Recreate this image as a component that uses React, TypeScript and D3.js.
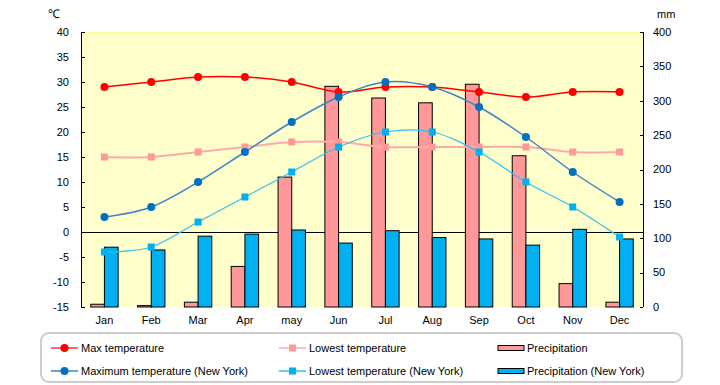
import React from 'react'
import * as d3 from 'd3'

const months = ['Jan', 'Feb', 'Mar', 'Apr', 'may', 'Jun', 'Jul', 'Aug', 'Sep', 'Oct', 'Nov', 'Dec']
const maxTemp = [29, 30, 31, 31, 30, 28, 29, 29, 28, 27, 28, 28]
const lowTemp = [15, 15, 16, 17, 18, 18, 17, 17, 17, 17, 16, 16]
const maxTempNY = [3, 5, 10, 16, 22, 27, 30, 29, 25, 19, 12, 6]
const lowTempNY = [-4, -3, 2, 7, 12, 17, 20, 20, 16, 10, 5, -1]
const precip = [4, 2, 7, 59, 189, 321, 304, 297, 324, 220, 34, 7]
const precipNY = [87, 83, 103, 106, 112, 93, 111, 101, 99, 90, 113, 99]
const tempTicks = [40, 35, 30, 25, 20, 15, 10, 5, 0, -5, -10, -15]
const precipTicks = [400, 350, 300, 250, 200, 150, 100, 50, 0]

const W = 720
const H = 385
const left = 81
const right = 643
const top = 32
const bottom = 307
const font = "'Liberation Sans', Arial, sans-serif"

const lineSeries = [
  { name: 'Max temperature', data: maxTemp, color: '#ff0000', stroke: '#ff0000', width: 1.5, shape: 'circle' },
  { name: 'Lowest temperature', data: lowTemp, color: '#ff9999', stroke: '#ffaaaa', width: 2, shape: 'square' },
  { name: 'Maximum temperature (New York)', data: maxTempNY, color: '#0070c0', stroke: '#3d85c6', width: 1.5, shape: 'circle' },
  { name: 'Lowest temperature (New York)', data: lowTempNY, color: '#00b0f0', stroke: '#33bdf0', width: 1.2, shape: 'square' },
]

const barSeries = [
  { key: 'p', name: 'Precipitation', data: precip, color: '#ff9999' },
  { key: 'n', name: 'Precipitation (New York)', data: precipNY, color: '#00b0f0' },
]

const Marker = ({ shape, x, y, color }) =>
  shape === 'circle' ? (
    <circle cx={x} cy={y} r={4} fill={color} />
  ) : (
    <rect x={x - 3.5} y={y - 3.5} width={7} height={7} fill={color} />
  )

export default function App() {
  const x = d3.scaleBand().domain(months).range([left, right]).padding(0)
  const xSub = d3
    .scaleBand()
    .domain(barSeries.map((s) => s.key))
    .range([0, x.bandwidth()])
    .paddingInner(0)
    .paddingOuter(0.71)
  const yT = d3.scaleLinear().domain([-15, 40]).range([bottom, top])
  const yP = d3.scaleLinear().domain([0, 400]).range([bottom, top])
  const cx = (m) => x(m) + x.bandwidth() / 2

  const line = d3
    .line()
    .x((d, i) => cx(months[i]))
    .y((d) => yT(d))
    .curve(d3.curveCardinal.tension(0))

  const legendCols = [51, 279, 498]
  const legendRows = [348, 371]

  return (
    <svg width={W} height={H} style={{ position: 'absolute', left: 0, top: 0, fontFamily: font }}>
      <rect x={0} y={0} width={W} height={H} fill="#fff" />
      <rect x={left} y={top} width={right - left} height={bottom - top} fill="#ffffcc" />
      <line x1={left} x2={right} y1={top + 0.5} y2={top + 0.5} stroke="#ffff99" />

      {/* zero line */}
      <line x1={left} x2={right} y1={Math.round(yT(0)) + 0.5} y2={Math.round(yT(0)) + 0.5} stroke="#000" />

      {/* bars */}
      {barSeries.map((s) =>
        s.data.map((v, i) => (
          <rect
            key={s.key + i}
            x={x(months[i]) + xSub(s.key)}
            y={yP(v)}
            width={xSub.bandwidth()}
            height={yP(0) - yP(v)}
            fill={s.color}
            stroke="#000"
            strokeWidth={1}
          />
        ))
      )}

      {/* axes */}
      <line x1={left + 0.5} x2={left + 0.5} y1={top} y2={bottom} stroke="#000" />
      <line x1={right + 0.5} x2={right + 0.5} y1={top} y2={bottom} stroke="#000" />
      {tempTicks.map((t) => (
        <g key={'t' + t}>
          <line x1={left} x2={left + 4} y1={Math.round(yT(t)) + 0.5} y2={Math.round(yT(t)) + 0.5} stroke="#000" />
          <text x={69} y={yT(t)} dy="0.35em" textAnchor="end" fontSize={11}>
            {t}
          </text>
        </g>
      ))}
      {precipTicks.map((t) => (
        <g key={'p' + t}>
          <line x1={right - 3} x2={right} y1={Math.round(yP(t)) + 0.5} y2={Math.round(yP(t)) + 0.5} stroke="#000" />
          <text x={653} y={yP(t)} dy="0.35em" textAnchor="start" fontSize={11}>
            {t}
          </text>
        </g>
      ))}
      {months.map((m) => (
        <text key={m} x={cx(m)} y={324} textAnchor="middle" fontSize={11}>
          {m}
        </text>
      ))}
      <text x={48} y={18} fontSize={12}>℃</text>
      <text x={657} y={18} fontSize={11}>mm</text>

      {/* lines */}
      {lineSeries.map((s) => (
        <g key={s.name}>
          <path d={line(s.data)} fill="none" stroke={s.stroke} strokeWidth={s.width} />
          {s.data.map((v, i) => (
            <Marker key={i} shape={s.shape} x={cx(months[i])} y={yT(v)} color={s.color} />
          ))}
        </g>
      ))}

      {/* legend */}
      <rect x={41} y={333} width={641} height={49} rx={8} fill="#fff" stroke="#cccccc" strokeWidth={2} />
      {lineSeries.map((s, i) => {
        const lx = legendCols[i % 2]
        const ly = legendRows[Math.floor(i / 2)]
        return (
          <g key={'l' + s.name}>
            <line x1={lx} x2={lx + 27} y1={ly} y2={ly} stroke={s.color} strokeWidth={1.2} />
            <Marker shape={s.shape} x={lx + 13.5} y={ly} color={s.color} />
            <text x={lx + 30} y={ly} dy="0.35em" fontSize={11}>
              {s.name}
            </text>
          </g>
        )
      })}
      {barSeries.map((s, i) => {
        const lx = legendCols[2]
        const ly = legendRows[i]
        return (
          <g key={'b' + s.key}>
            <rect x={lx} y={ly - 2.5} width={26} height={5} fill={s.color} stroke="#000" strokeWidth={1} />
            <text x={lx + 29} y={ly} dy="0.35em" fontSize={11}>
              {s.name}
            </text>
          </g>
        )
      })}
    </svg>
  )
}
